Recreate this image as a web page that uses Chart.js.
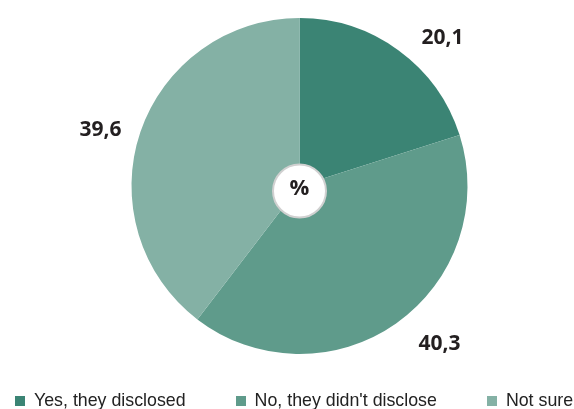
<!DOCTYPE html>
<html>
<head>
<meta charset="utf-8">
<script src="https://cdn.jsdelivr.net/npm/chart.js@4/dist/chart.umd.min.js"></script>
<style>
  html, body { margin: 0; padding: 0; background: #fff; overflow: hidden; width: 574px; height: 409px; }
  #wrap { position: relative; width: 574px; height: 409px; }
  canvas { position: absolute; left: 0; top: 0; }
  #legend { position: absolute; left: 15px; top: 391px; display: flex; gap: 50px; font-family: "Liberation Sans", Arial, sans-serif; font-size: 17.8px; line-height: 18px; color: #222; white-space: nowrap; }
  #legend .sw { display: inline-block; width: 10px; height: 10px; margin-right: 9px; vertical-align: baseline; }
</style>
</head>
<body>
<div id="wrap">
  <canvas id="c" width="574" height="409"></canvas>
  <div id="legend"></div>
</div>
<script>
const categories = ["Yes, they disclosed", "No, they didn't disclose", "Not sure"];
const values = [20.1, 40.3, 39.6];
const valueLabels = ["20,1", "40,3", "39,6"];
const colors = ["#3b8474", "#5f9b8b", "#84b1a5"];

const labelPlugin = {
  id: 'sliceLabels',
  afterDatasetsDraw(chart) {
    const ctx = chart.ctx;
    const meta = chart.getDatasetMeta(0);
    ctx.save();
    ctx.font = 'bold 21px "Open Sans", sans-serif';
    ctx.fillStyle = '#231f20';
    ctx.textBaseline = 'middle';
    let cx = 0, cy = 0;
    meta.data.forEach((arc, i) => {
      const p = arc.getProps(['x', 'y', 'startAngle', 'endAngle', 'outerRadius'], true);
      cx = p.x; cy = p.y;
      const mid = (p.startAngle + p.endAngle) / 2;
      const r = p.outerRadius + 20;
      const x = p.x + Math.cos(mid) * r;
      const y = p.y + Math.sin(mid) * r + 4;
      const right = Math.cos(mid) >= 0;
      ctx.textAlign = right ? 'left' : 'right';
      ctx.fillText(valueLabels[i], x + (right ? 11 : 0), y);
    });
    // center badge
    ctx.beginPath();
    ctx.arc(cx, cy + 5, 26.5, 0, Math.PI * 2);
    ctx.fillStyle = '#ffffff';
    ctx.fill();
    ctx.lineWidth = 2;
    ctx.strokeStyle = '#d0d0d0';
    ctx.stroke();
    ctx.fillStyle = '#231f20';
    ctx.textAlign = 'center';
    ctx.font = 'bold 22px "Open Sans", sans-serif';
    ctx.fillText('%', cx, cy + 3);
    ctx.restore();
  }
};

new Chart(document.getElementById('c'), {
  type: 'pie',
  data: {
    labels: categories,
    datasets: [{
      data: values,
      backgroundColor: colors,
      borderWidth: 0
    }]
  },
  options: {
    responsive: false,
    animation: false,
    layout: { padding: { top: 18, bottom: 55, left: 25, right: 0 } },
    plugins: {
      legend: { display: false },
      tooltip: { enabled: false }
    }
  },
  plugins: [labelPlugin]
});

const leg = document.getElementById('legend');
categories.forEach((c, i) => {
  const item = document.createElement('span');
  const sw = document.createElement('span');
  sw.className = 'sw';
  sw.style.background = colors[i];
  item.appendChild(sw);
  item.appendChild(document.createTextNode(c));
  leg.appendChild(item);
});
</script>
</body>
</html>
